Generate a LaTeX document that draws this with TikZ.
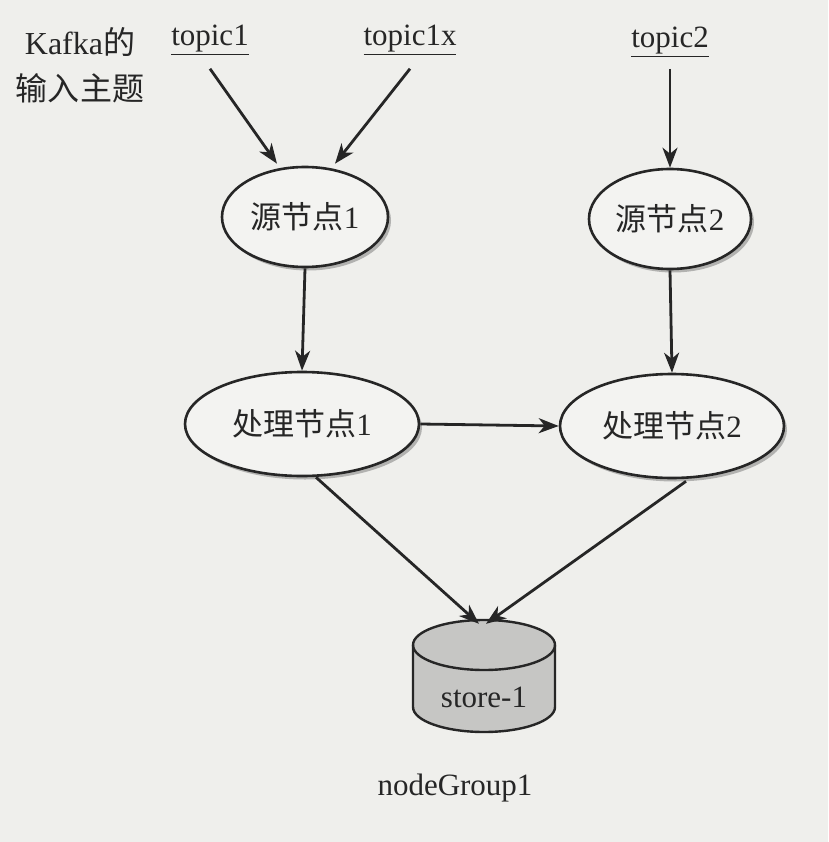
\documentclass[tikz,border=0pt]{standalone}
\usepackage{fontspec}
\setmainfont{Liberation Serif}
\newfontfamily\cjk{Noto Sans CJK SC}
\usetikzlibrary{arrows.meta,shadows,shapes.geometric}
\definecolor{bgc}{HTML}{EFEFEC}
\definecolor{ellc}{HTML}{F3F3F1}
\definecolor{cylc}{HTML}{C6C6C4}
\definecolor{inkc}{HTML}{262626}
\tikzset{
  ell/.style={ellipse, draw=inkc, line width=2.6pt, fill=ellc, inner sep=0pt,
    drop shadow={shadow xshift=3pt, shadow yshift=-3.5pt, opacity=0.55},
    font=\fontsize{31}{34}\selectfont, text=inkc},
  lbl/.style={font=\fontsize{31}{34}\selectfont, text=inkc, inner sep=0pt},
  arr/.style={draw=inkc, line width=2.8pt, -{Stealth[length=20pt,width=15pt,inset=6pt]}}
}
\begin{document}
\begin{tikzpicture}[x=1pt,y=-1pt]
\fill[bgc] (0,0) rectangle (828,842);
\useasboundingbox (0,0) rectangle (828,842);
% labels
\node[lbl, font=\fontsize{32}{34}\selectfont] (kafka) at (80,42) {Kafka{\cjk 的}};
\node[lbl, font=\fontsize{32}{34}\selectfont] (input) at (80,88) {\cjk 输入主题};
\node[lbl] (t1) at (210,40) {\underline{topic1}};
\node[lbl] (t1x) at (410,40) {\underline{topic1x}};
\node[lbl] (t2) at (670,42) {\underline{topic2}};
% ellipses
\node[ell, minimum width=166pt, minimum height=100pt] (s1) at (305,217) {{\cjk 源节点}1};
\node[ell, minimum width=162pt, minimum height=100pt] (s2) at (670,219) {{\cjk 源节点}2};
\node[ell, minimum width=234pt, minimum height=104pt] (p1) at (302,424) {{\cjk 处理节点}1};
\node[ell, minimum width=224pt, minimum height=104pt] (p2) at (672,426) {{\cjk 处理节点}2};
% cylinder
\fill[cylc] (413,645) -- (413,707) arc[start angle=180,end angle=360,x radius=71pt,y radius=25pt] -- (555,645) arc[start angle=0,end angle=180,x radius=71pt,y radius=25pt] -- cycle;
\draw[inkc, line width=2.4pt] (413,645) -- (413,707) arc[start angle=180,end angle=360,x radius=71pt,y radius=25pt] -- (555,645);
\draw[inkc, line width=2.4pt] (484,645) ellipse[x radius=71pt,y radius=25pt];
\node[inner sep=0pt, minimum width=142pt, minimum height=112pt] (store) at (484,676) {};
\node[lbl] (storelbl) at (484,697) {store-1};
\node[lbl] (ng) at (455,788) {nodeGroup1};
% arrows
\draw[arr] (t1.south) ++(0,14) -- ([xshift=-28pt,yshift=2pt]s1.north);
\draw[arr] (t1x.south) ++(0,14) -- ([xshift=30pt,yshift=2pt]s1.north);
\draw[arr] (t2.south) ++(0,12) -- (s2.north);
\draw[arr] (s1.south) -- (p1.north);
\draw[arr] (s2.south) -- (p2.north);
\draw[arr] (p1.east) -- (p2.west);
\draw[arr] (p1.south) ++(14,0) -- ([xshift=-5pt,yshift=-4pt]store.north);
\draw[arr] (p2.south) ++(14,2) -- ([xshift=2pt,yshift=-4pt]store.north);
\end{tikzpicture}
\end{document}
